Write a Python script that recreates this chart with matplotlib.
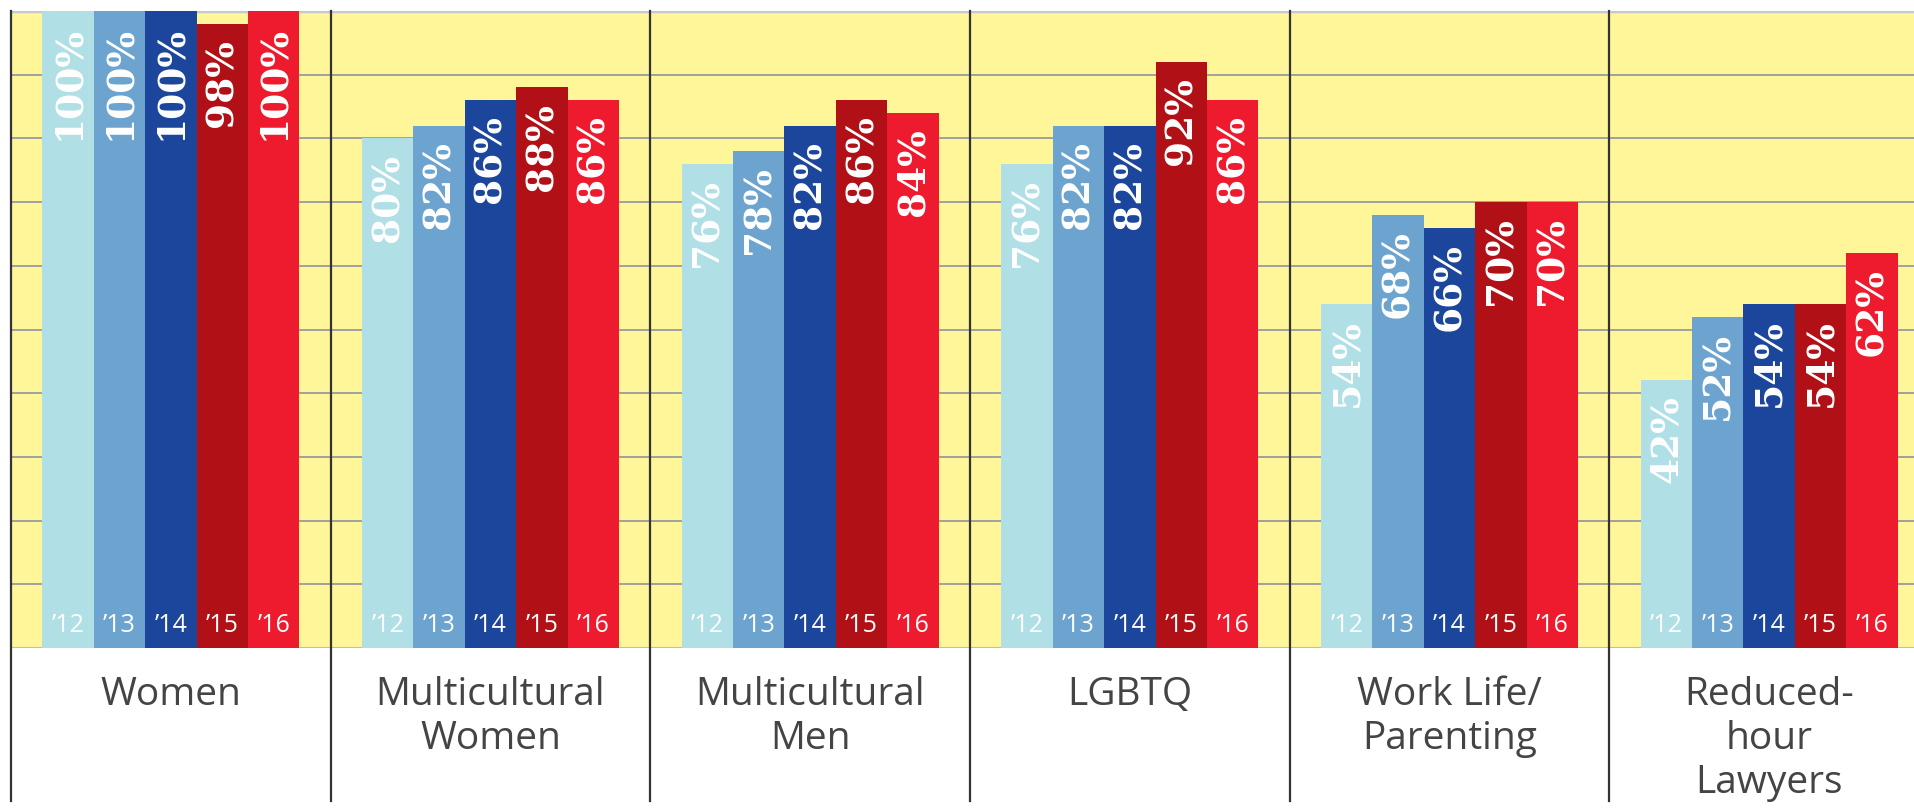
import matplotlib
matplotlib.use("Agg")
import matplotlib.pyplot as plt
import numpy as np

categories = ["Women", "Multicultural\nWomen", "Multicultural\nMen", "LGBTQ",
              "Work Life/\nParenting", "Reduced-\nhour\nLawyers"]
years = ["\u201912", "\u201913", "\u201914", "\u201915", "\u201916"]
v2012 = [100, 80, 76, 76, 54, 42]
v2013 = [100, 82, 78, 82, 68, 52]
v2014 = [100, 86, 82, 82, 66, 54]
v2015 = [98, 88, 86, 92, 70, 54]
v2016 = [100, 86, 84, 86, 70, 62]
series = [v2012, v2013, v2014, v2015, v2016]
colors = ["#b0dfe5", "#6ca4cf", "#1c459c", "#b01016", "#ee1b2e"]

W, H = 1914, 809
fig = plt.figure(figsize=(W / 100, H / 100), dpi=100)
ax = fig.add_axes([11 / W, 161 / H, (1929 - 11) / W, 637 / H])
ax.set_facecolor("#fff599")
ax.set_xlim(-0.5, len(categories) - 0.5)
ax.set_ylim(0, 100)
for s in ax.spines.values():
    s.set_visible(False)
ax.set_xticks([])
ax.set_yticks([])

for g in range(10, 100, 10):
    ax.axhline(g, color="#a0a0a0", lw=1.4, zorder=1)
ax.axhline(100, color="#c8c8c8", lw=2.5, zorder=1)
ax.axhline(0, color="#bdbdbd", lw=1.5, zorder=1)

bw = 0.1608
x = np.arange(len(categories))
for i, (vals, c) in enumerate(zip(series, colors)):
    xs = x + (i - 2) * bw
    ax.bar(xs, vals, width=bw, color=c, zorder=2, linewidth=0)
    for xi, v in zip(xs, vals):
        ax.annotate(f"{v}%", (xi, v), xytext=(0, -11), textcoords="offset points",
                    rotation=90, ha="center", va="top", color="white",
                    fontsize=27, fontweight="bold", family="DejaVu Serif", zorder=3)
        ax.text(xi, 3.5, years[i], ha="center", va="center", color="white",
                fontsize=18, family="Open Sans", zorder=3)

for sx in np.arange(-0.5, len(categories), 1.0):
    ax.plot([sx, sx], [1.0, -0.24], transform=ax.get_xaxis_transform(),
            color="#333333", lw=1.6, clip_on=False, zorder=4)

for xi, cat in zip(x, categories):
    ax.text(xi, -0.044, cat, transform=ax.get_xaxis_transform(), ha="center",
            va="top", color="#444444", fontsize=28, family="Open Sans",
            linespacing=1.2)

fig.savefig("out.png", dpi=100)
